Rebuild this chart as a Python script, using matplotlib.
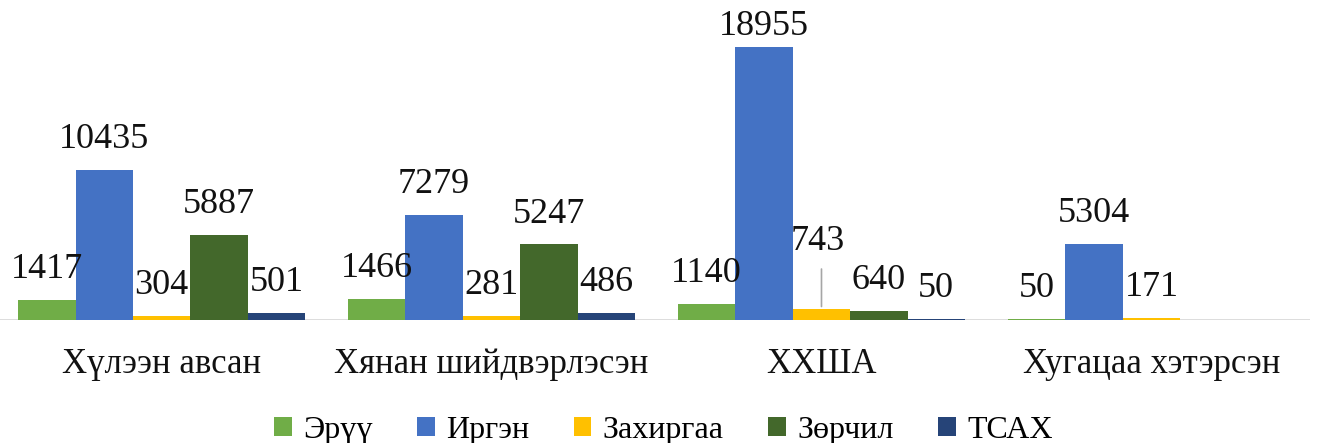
import numpy as np
import matplotlib.pyplot as plt

# Data
categories = ['Хүлээн авсан', 'Хянан шийдвэрлэсэн', 'ХХША', 'Хугацаа хэтэрсэн']
series = ['Эрүү', 'Иргэн', 'Захиргаа', 'Зөрчил', 'ТСАХ']
eruu = [1417, 1466, 1140, 50]
irgen = [10435, 7279, 18955, 5304]
zakhirgaa = [304, 281, 743, 171]
zorchil = [5887, 5247, 640, 0]
tsakh = [501, 486, 50, 0]
colors = ['#70AD47', '#4472C4', '#FFC000', '#43682B', '#264478']

values = [eruu, irgen, zakhirgaa, zorchil, tsakh]
top = max(irgen)

plt.rcParams['font.family'] = ['Liberation Serif', 'DejaVu Serif']

fig = plt.figure(figsize=(13.19, 4.43), dpi=100)
ax = fig.add_axes([0, 1 - 320 / 443, 0.993, 320 / 443])

x = np.arange(len(categories))
w = 0.174
for i, (name, vals, c) in enumerate(zip(series, values, colors)):
    pos = x + (i - 2) * w
    ax.bar(pos, vals, width=w, color=c, label=name, zorder=2)
    for j, v in enumerate(vals):
        if v == 0:
            continue
        if name == 'Захиргаа' and categories[j] == 'ХХША':
            # label pulled up with a leader line
            ax.annotate(str(v), (pos[j], v), xytext=(-3, 37), textcoords='offset points',
                        ha='center', va='bottom', fontsize=26, color='#111111')
            ax.annotate('', (pos[j], v), xytext=(0, 31), textcoords='offset points',
                        arrowprops=dict(arrowstyle='-', color='#A6A6A6', lw=1.2))
        else:
            dy = 3 if v == top else 10  # tallest label squeezed under the top edge
            ax.annotate(str(v), (pos[j], v), xytext=(0, dy), textcoords='offset points',
                        ha='center', va='bottom', fontsize=26, color='#111111')

ax.set_xlim(-0.49, 3.48)
ax.set_ylim(0, 22220)
ax.axhline(0, color='#D9D9D9', lw=2, zorder=1)
for s in ax.spines.values():
    s.set_visible(False)
ax.set_yticks([])
ax.set_xticks(x)
ax.set_xticklabels(categories, fontsize=25, color='#111111')
ax.tick_params(axis='x', length=0, pad=20)

fig.legend(loc='center', bbox_to_anchor=(0.503, 0.028), ncol=5, frameon=False,
           fontsize=23, handlelength=0.55, handleheight=0.55, handletextpad=0.35,
           columnspacing=1.4)

fig.savefig('out.png', dpi=100)
